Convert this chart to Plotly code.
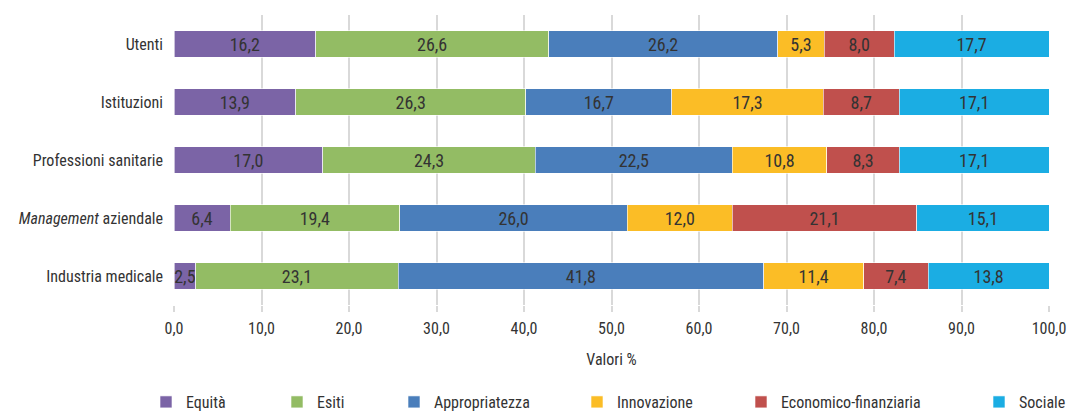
import plotly.graph_objects as go

categories = ["Utenti", "Istituzioni", "Professioni sanitarie", "<i>Management</i> aziendale", "Industria medicale"]
series_names = ["Equità", "Esiti", "Appropriatezza", "Innovazione", "Economico-finanziaria", "Sociale"]
equita = [16.2, 13.9, 17.0, 6.4, 2.5]
esiti = [26.6, 26.3, 24.3, 19.4, 23.1]
appropriatezza = [26.2, 16.7, 22.5, 26.0, 41.8]
innovazione = [5.3, 17.3, 10.8, 12.0, 11.4]
economico = [8.0, 8.7, 8.3, 21.1, 7.4]
sociale = [17.7, 17.1, 17.1, 15.1, 13.8]
x_ticks = [0, 10, 20, 30, 40, 50, 60, 70, 80, 90, 100]

series_values = [equita, esiti, appropriatezza, innovazione, economico, sociale]
colors = ["#7B64A6", "#93BC64", "#4A7EBB", "#FBBD26", "#C0504D", "#1BADE3"]
legend_px = [170, 301, 418, 601, 765, 1003]

FONT = "Roboto Condensed, Liberation Sans Narrow, Arial Narrow, sans-serif"
FS = 16
TXT = "#333333"
L, R, T, B = 174, 20, 15, 106
PW = 1069 - L - R
PH = 411 - T - B

fig = go.Figure()
legend_ids = ["legend"] + [f"legend{i}" for i in range(2, 7)]
for name, vals, col, lid in zip(series_names, series_values, colors, legend_ids):
    fig.add_trace(go.Bar(
        y=categories, x=vals, name=name, orientation="h",
        marker=dict(color=col, line=dict(color="rgba(255,255,255,0.6)", width=1)),
        text=[f"{v:.1f}".replace(".", ",") for v in vals],
        textposition="inside", insidetextanchor="middle",
        constraintext="none", textangle=0,
        textfont=dict(family=FONT, size=18, color=TXT),
        hoverinfo="skip", legend=lid,
    ))

legend_layout = {}
for lid, px in zip(legend_ids, legend_px):
    legend_layout[lid] = dict(
        x=(px - 24 - L) / PW, xanchor="left", y=-(385 - (T + PH)) / PH, yanchor="top",
        orientation="h", bgcolor="rgba(0,0,0,0)", borderwidth=0,
        font=dict(family=FONT, size=FS, color=TXT), itemwidth=30,
    )

fig.update_layout(
    barmode="stack",
    bargap=0.55,
    width=1069, height=411,
    margin=dict(l=L, r=R, t=T, b=B, autoexpand=False),
    paper_bgcolor="white", plot_bgcolor="white",
    separators=",.",
    font=dict(family=FONT, size=FS, color=TXT),
    showlegend=True,
    xaxis=dict(range=[0, 100], tickvals=x_ticks, tickformat=".1f",
               showgrid=True, gridcolor="#D9D9D9", gridwidth=2,
               zeroline=False, showline=False, automargin=False,
               ticks="outside", ticklen=6, tickcolor="#D9D9D9", tickwidth=2,
               ticklabelstandoff=3,
               title=dict(text="Valori %", standoff=16, font=dict(family=FONT, size=FS, color=TXT)),
               tickfont=dict(family=FONT, size=FS, color=TXT)),
    yaxis=dict(autorange="reversed", showgrid=False, ticks="", ticklabelstandoff=10,
               automargin=False,
               tickfont=dict(family=FONT, size=FS, color=TXT)),
    **legend_layout,
)

fig.write_html("out.html", config={"displayModeBar": False},
               post_script="document.body.style.margin='0';document.body.style.padding='0';")
